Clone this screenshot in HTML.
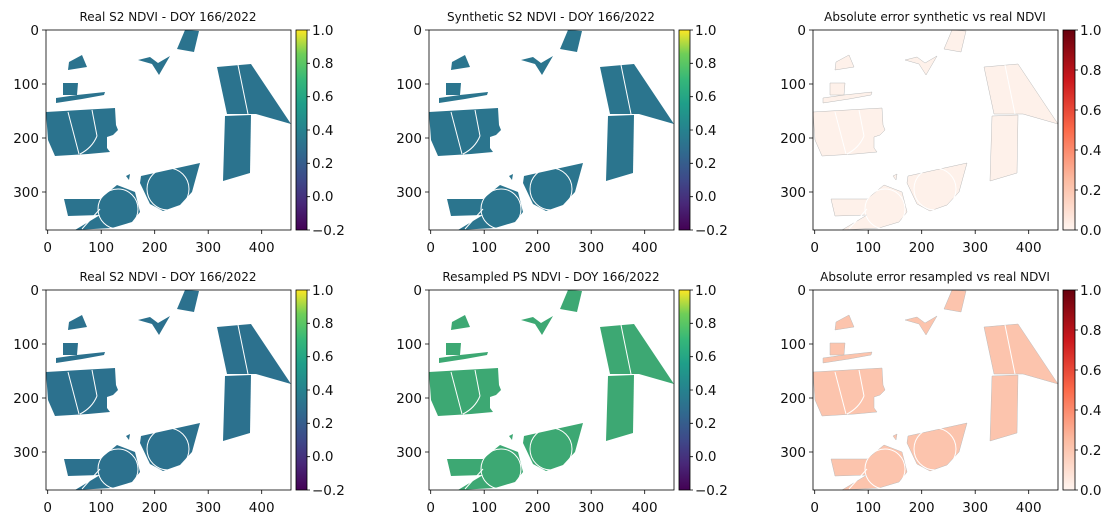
<!DOCTYPE html>
<html><head><meta charset="utf-8"><style>
body{margin:0;background:#fff}
svg{display:block;font-family:"DejaVu Sans","Liberation Sans",sans-serif}
</style></head><body>
<svg width="1116" height="525" viewBox="0 0 1116 525" xmlns="http://www.w3.org/2000/svg">
<defs>
<linearGradient id="vir" x1="0" y1="1" x2="0" y2="0">
<stop offset="0" stop-color="#440154"/><stop offset="0.13" stop-color="#482878"/><stop offset="0.25" stop-color="#3e4989"/><stop offset="0.38" stop-color="#31688e"/><stop offset="0.5" stop-color="#26828e"/><stop offset="0.63" stop-color="#1f9e89"/><stop offset="0.75" stop-color="#35b779"/><stop offset="0.88" stop-color="#6ece58"/><stop offset="1" stop-color="#fde725"/></linearGradient>
<linearGradient id="red" x1="0" y1="1" x2="0" y2="0">
<stop offset="0" stop-color="#fff5f0"/><stop offset="0.25" stop-color="#fcbba1"/><stop offset="0.5" stop-color="#fb6a4a"/><stop offset="0.75" stop-color="#cb181d"/><stop offset="1" stop-color="#67000d"/></linearGradient>
<g id="fields">
<polygon points="185,30 199,31 194,52 177,49"/>
<polygon points="69,62 82,55 87,67 68,70"/>
<polygon points="138,60 150,57 158,63 170,56 159,75 152,64"/>
<polygon points="217,67 251,64 291,124 256,114 227,114"/>
<polygon points="225,116 251,115 250,173 223,181"/>
<polygon points="63,83 78,83 77,95 63,95"/>
<polygon points="56,98 77,95 105,92 104,95 82,99 56,103"/>
<polygon points="46,112 115,108 116,125 118,130 113,135 107,137 107,148 110,152 88,154 55,156 48,140"/>
<polygon points="141,176 200,163 192,192 180,205 163,211 150,204 140,183"/>
<polygon points="64,199 100,199 117,185 135,192 140,212 132,222 112,228 75,230 100,215 68,216"/>
<polygon points="126,176 130,174 129,180"/>
</g>
<g id="lines" fill="none" stroke="#fff" stroke-width="1">
<line x1="238" y1="65" x2="248" y2="114"/>
<line x1="68" y1="112" x2="79" y2="154"/>
<line x1="92" y1="110" x2="97" y2="136"/>
<circle cx="168" cy="189" r="21"/>
<circle cx="118" cy="209" r="20"/>
<line x1="82" y1="229" x2="100" y2="209"/>
<path d="M97 136 Q92 148 80 154"/>
</g>
</defs>

<g><use href="#fields" fill="#2b738e"/><use href="#lines"/></g>
<g transform="translate(383,0)"><use href="#fields" fill="#2b758e"/><use href="#lines"/></g>
<g transform="translate(767,0)"><use href="#fields" fill="#fef1ea" stroke="#bbb" stroke-width="0.5"/><use href="#lines" stroke="#ccc"/></g>
<g transform="translate(0,260)"><use href="#fields" fill="#2c718e"/><use href="#lines"/></g>
<g transform="translate(383,260)"><use href="#fields" fill="#3da873"/><use href="#lines"/></g>
<g transform="translate(767,260)"><use href="#fields" fill="#fcc4ad" stroke="#bbb" stroke-width="0.5"/><use href="#lines" stroke="#ccc"/></g>

<g id="axes1" fill="none" stroke="#000" stroke-width="0.8">
<rect x="46" y="30" width="245" height="200"/>
<path d="M47.7 230v4M101.2 230v4M154.7 230v4M208.2 230v4M261.7 230v4M46 30h-4M46 84h-4M46 138h-4M46 192h-4"/>
</g>
<g id="lab1" font-size="13.5" fill="#111">
<text x="47.7" y="252" text-anchor="middle">0</text><text x="101.2" y="252" text-anchor="middle">100</text><text x="154.7" y="252" text-anchor="middle">200</text><text x="208.2" y="252" text-anchor="middle">300</text><text x="261.7" y="252" text-anchor="middle">400</text>
<text x="39" y="35" text-anchor="end">0</text><text x="39" y="89" text-anchor="end">100</text><text x="39" y="143" text-anchor="end">200</text><text x="39" y="197" text-anchor="end">300</text>
</g>
<use href="#axes1" x="383"/><use href="#axes1" x="767"/><use href="#axes1" y="260"/><use href="#axes1" x="383" y="260"/><use href="#axes1" x="767" y="260"/>
<use href="#lab1" x="383"/><use href="#lab1" x="767"/><use href="#lab1" y="260"/><use href="#lab1" x="383" y="260"/><use href="#lab1" x="767" y="260"/>

<g id="cbv">
<rect x="296" y="30" width="11" height="200" fill="url(#vir)" stroke="#000" stroke-width="0.8"/>
<path d="M307 30h3M307 63.3h3M307 96.7h3M307 130h3M307 163.3h3M307 196.7h3M307 230h3" stroke="#000" stroke-width="0.8"/>
<g font-size="13.5" fill="#111">
<text x="312" y="35">1.0</text><text x="312" y="68">0.8</text><text x="312" y="101">0.6</text><text x="312" y="135">0.4</text><text x="312" y="168">0.2</text><text x="312" y="201">0.0</text><text x="312" y="235">−0.2</text>
</g></g>
<use href="#cbv" x="383"/><use href="#cbv" y="260"/><use href="#cbv" x="383" y="260"/>
<g id="cbr">
<rect x="1063" y="30" width="12" height="200" fill="url(#red)" stroke="#000" stroke-width="0.8"/>
<path d="M1075 30h3M1075 70h3M1075 110h3M1075 150h3M1075 190h3M1075 230h3" stroke="#000" stroke-width="0.8"/>
<g font-size="13.5" fill="#111">
<text x="1080" y="35">1.0</text><text x="1080" y="75">0.8</text><text x="1080" y="115">0.6</text><text x="1080" y="155">0.4</text><text x="1080" y="195">0.2</text><text x="1080" y="235">0.0</text>
</g></g>
<use href="#cbr" y="260"/>

<g font-size="12" fill="#111" text-anchor="middle">
<text x="168" y="21">Real S2 NDVI - DOY 166/2022</text>
<text x="551" y="21">Synthetic S2 NDVI - DOY 166/2022</text>
<text x="935" y="21">Absolute error synthetic vs real NDVI</text>
<text x="168" y="281">Real S2 NDVI - DOY 166/2022</text>
<text x="551" y="281">Resampled PS NDVI - DOY 166/2022</text>
<text x="935" y="281">Absolute error resampled vs real NDVI</text>
</g>
</svg>
</body></html>
